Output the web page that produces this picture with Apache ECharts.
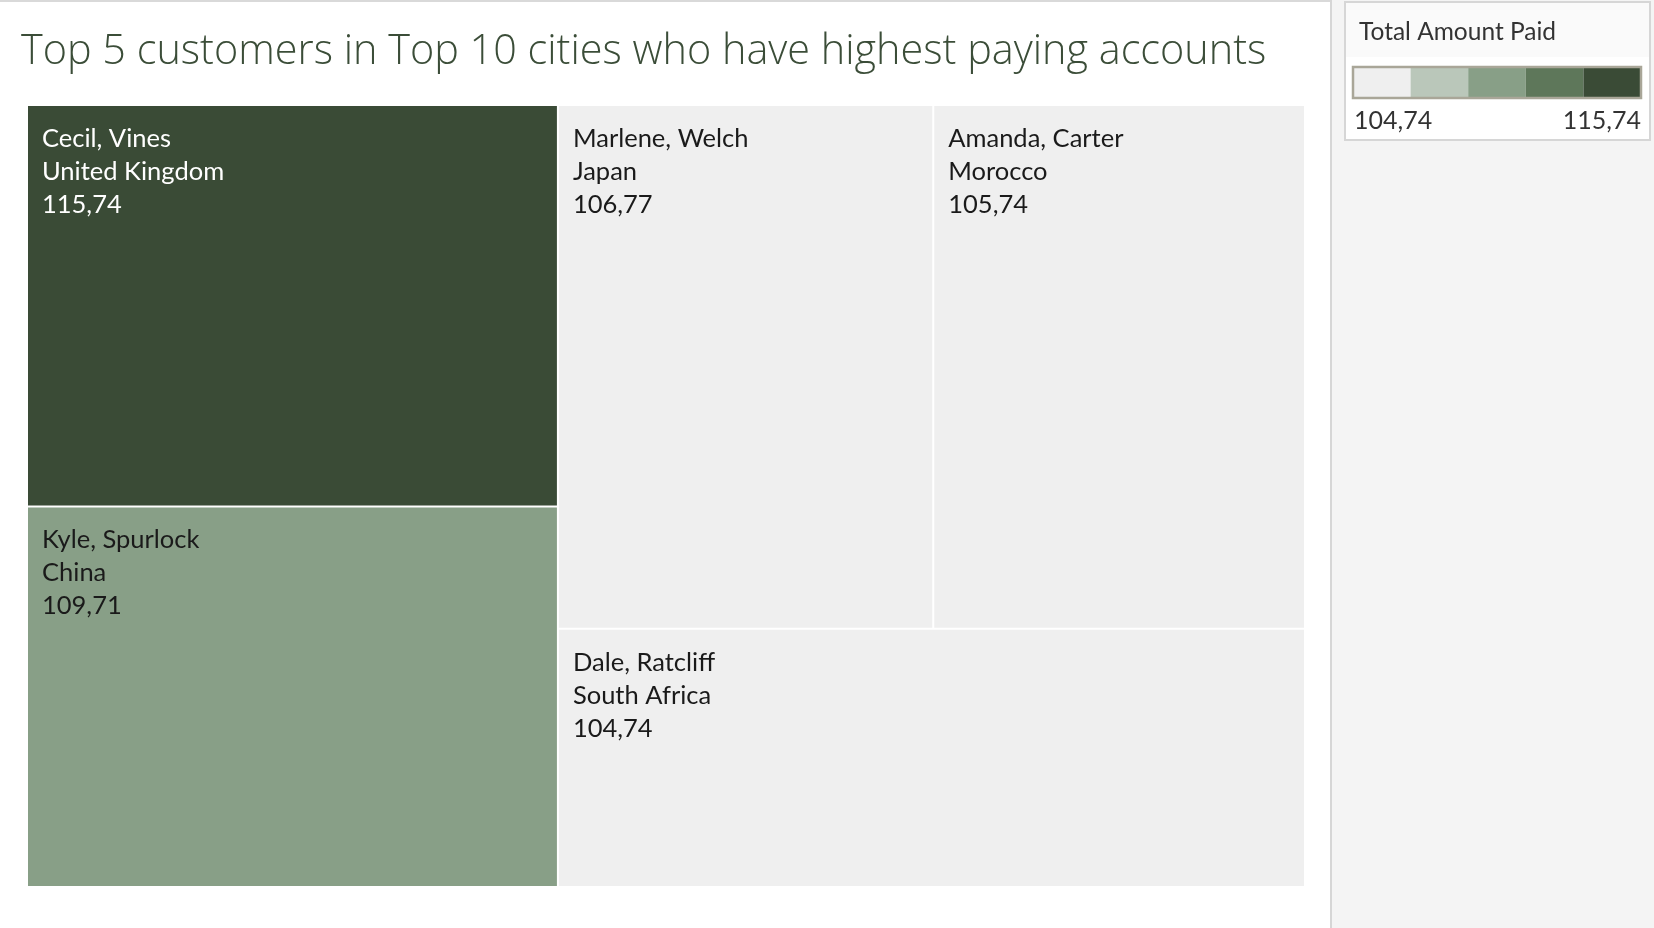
<!DOCTYPE html>
<html>
<head>
<meta charset="utf-8">
<script src="https://cdn.jsdelivr.net/npm/echarts@6/dist/echarts.min.js"></script>
<style>
html,body{margin:0;padding:0;background:#fff;}
#main{width:1654px;height:928px;}
</style>
</head>
<body>
<div id="main"></div>
<script>
// ---- data ----
const customers = ['Cecil, Vines', 'Kyle, Spurlock', 'Marlene, Welch', 'Amanda, Carter', 'Dale, Ratcliff'];
const countries = ['United Kingdom', 'China', 'Japan', 'Morocco', 'South Africa'];
const amounts = [115.74, 109.71, 106.77, 105.74, 104.74];
const chartTitle = 'Top 5 customers in Top 10 cities who have highest paying accounts';
const legendTitle = 'Total Amount Paid';

// ---- styles ----
const palette = ['#efefef', '#bac7ba', '#889f87', '#5e775a', '#3a4b36'];
const FONT = 'Lato, "Open Sans", sans-serif';
const TITLE_FONT = '"Open Sans", Lato, sans-serif';

const vMin = Math.min(...amounts), vMax = Math.max(...amounts);
const fmt = v => v.toFixed(2).replace('.', ',');
function binOf(v) {
  const t = (v - vMin) / (vMax - vMin);
  return Math.max(0, Math.min(palette.length - 1, Math.floor(t * palette.length)));
}

const seriesData = customers.map((c, i) => {
  const b = binOf(amounts[i]);
  return {
    name: c,
    value: amounts[i],
    country: countries[i],
    itemStyle: { color: palette[b] },
    label: { color: b >= 3 ? '#ffffff' : '#1a1a1a' }
  };
});

const chart = echarts.init(document.getElementById('main'));

// legend graphic
const legX = 1353, legY = 67, legW = 288, legH = 31;
const segW = legW / palette.length;
const legendGraphics = [
  { type: 'rect', shape: { x: 1332, y: 0, width: 322, height: 928 }, style: { fill: '#f4f4f4' }, silent: true, z: -10 },
  { type: 'rect', shape: { x: 1330, y: 0, width: 2, height: 928 }, style: { fill: '#d6d6d6' }, silent: true, z: -9 },
  { type: 'rect', shape: { x: 0, y: 0, width: 1330, height: 2 }, style: { fill: '#d9d9d9' }, silent: true, z: -9 },
  { type: 'rect', shape: { x: 1345, y: 2, width: 305, height: 138 }, style: { fill: '#ffffff', stroke: '#d6d6d6', lineWidth: 2 }, silent: true, z: -8 },
  { type: 'rect', shape: { x: 1346, y: 3, width: 303, height: 54 }, style: { fill: '#fafafa' }, silent: true, z: -7 },
  { type: 'text', x: 1359, y: 20, style: { text: legendTitle, font: '24.5px ' + FONT, fill: '#333333', verticalAlign: 'top' }, silent: true },
];
palette.forEach((c, i) => {
  legendGraphics.push({ type: 'rect', shape: { x: legX + i * segW, y: legY, width: segW, height: legH }, style: { fill: c }, silent: true });
});
legendGraphics.push({ type: 'rect', shape: { x: legX, y: legY, width: legW, height: legH }, style: { fill: null, stroke: '#a9a698', lineWidth: 2.5 }, silent: true });
legendGraphics.push({ type: 'text', x: legX + 1, y: 108, style: { text: fmt(vMin), font: '25px ' + FONT, fill: '#333333', verticalAlign: 'top' }, silent: true });
legendGraphics.push({ type: 'text', x: legX + legW, y: 108, style: { text: fmt(vMax), font: '25px ' + FONT, fill: '#333333', align: 'right', verticalAlign: 'top' }, silent: true });
legendGraphics.push({ type: 'text', x: 21, y: 32, style: { text: chartTitle, font: '300 41.4px ' + TITLE_FONT, fill: '#3b4d38', verticalAlign: 'top' }, silent: true });

chart.setOption({
  animation: false,
  backgroundColor: '#ffffff',
  graphic: legendGraphics,
  series: [{
    type: 'treemap',
    left: 28, top: 106, width: 1276, height: 780,
    roam: false,
    nodeClick: false,
    sort: 'desc',
    breadcrumb: { show: false },
    emphasis: { disabled: true },
    itemStyle: { borderWidth: 0, gapWidth: 2, borderColor: '#ffffff' },
    levels: [{ itemStyle: { borderWidth: 0, gapWidth: 2, borderColor: '#ffffff' } }],
    label: {
      show: true,
      position: [9, 11],
      fontFamily: FONT,
      fontSize: 25.5,
      lineHeight: 33,
      formatter: p => p.data.name + '\n' + p.data.country + '\n' + fmt(p.data.value)
    },
    data: seriesData
  }]
});
</script>
</body>
</html>
